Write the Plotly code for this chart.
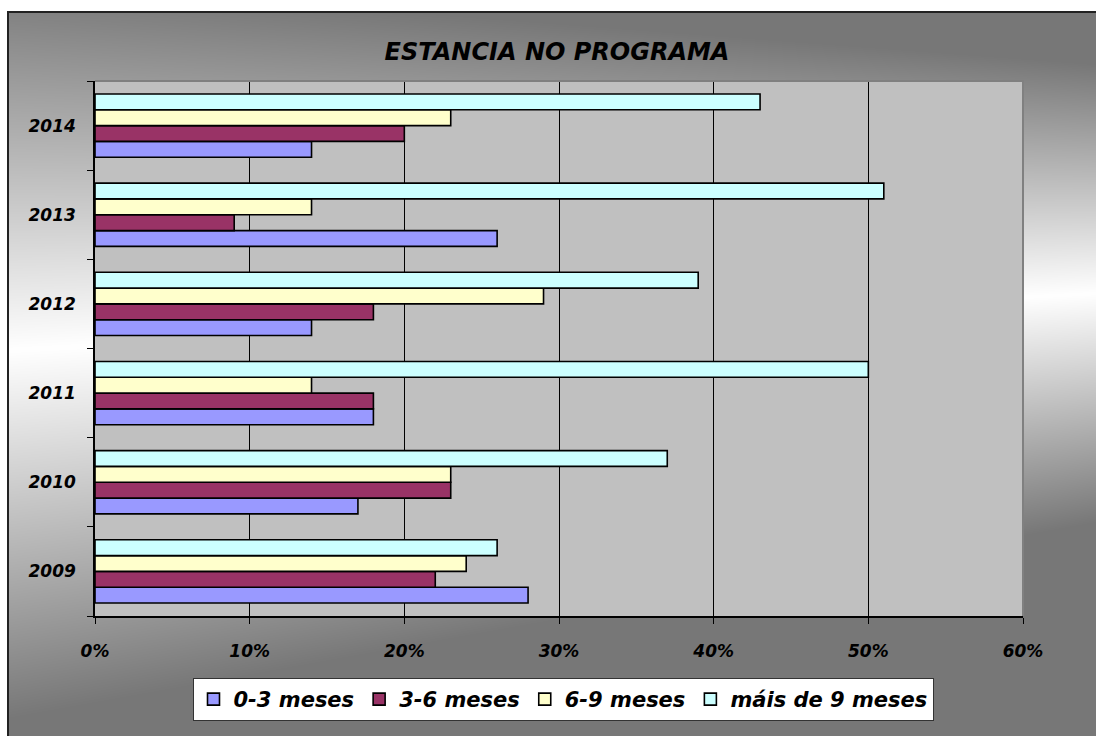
import base64
import struct
import zlib

import numpy as np
import plotly.graph_objects as go

# ---------------- data ----------------
years = ["2009", "2010", "2011", "2012", "2013", "2014"]
m0_3 = [28, 17, 18, 14, 26, 14]
m3_6 = [22, 23, 18, 18, 9, 20]
m6_9 = [24, 23, 14, 29, 14, 23]
m9_plus = [26, 37, 50, 39, 51, 43]
series_names = ["0-3 meses", "3-6 meses", "6-9 meses", "máis de 9 meses"]
series_colors = ["#9999FF", "#993366", "#FFFFCC", "#CCFFFF"]
x_ticks = [0, 10, 20, 30, 40, 50, 60]
x_ticktext = [f"{v}%" for v in x_ticks]

# ---------------- layout geometry (pixels) ----------------
W, H = 1096, 736
PL, PR, PT, PB = 95, 1023, 81, 616  # plot area edges
PW, PH = PR - PL, PB - PT


def px_x(px):
    return (px - PL) / PW


def px_y(py):
    return (PB - py) / PH


# ---------------- gradient background image ----------------
BX0, BY0 = 7, 11  # outer box top-left
bw, bh = W - BX0, H - BY0
xs = (np.arange(bw)[None, :] + BX0).astype(float)
ys = (np.arange(bh)[:, None] + BY0).astype(float)
f = (xs - BX0) / bw
yc = 350 - 57 * f
R = 370 - 140 * f
t = np.clip(np.abs(ys - yc) / R, 0, 1)
val = 255 - t * (255 - 119)
img = np.repeat(val[:, :, None], 3, axis=2).astype(np.uint8)


def to_png(a):
    h, w, _ = a.shape
    raw = b"".join(b"\x00" + a[i].tobytes() for i in range(h))

    def chunk(tag, data):
        c = struct.pack(">I", len(data)) + tag + data
        return c + struct.pack(">I", zlib.crc32(tag + data) & 0xFFFFFFFF)

    png = b"\x89PNG\r\n\x1a\n"
    png += chunk(b"IHDR", struct.pack(">IIBBBBB", w, h, 8, 2, 0, 0, 0))
    png += chunk(b"IDAT", zlib.compress(raw, 9))
    png += chunk(b"IEND", b"")
    return "data:image/png;base64," + base64.b64encode(png).decode()


bg_src = to_png(img)

# ---------------- figure ----------------
FONT = "DejaVu Sans"
fig = go.Figure()
for name, vals, col in zip(series_names, [m0_3, m3_6, m6_9, m9_plus], series_colors):
    fig.add_trace(
        go.Bar(
            y=years,
            x=vals,
            name=name,
            orientation="h",
            marker=dict(color=col, line=dict(color="#000000", width=1.6)),
        )
    )

fig.update_layout(
    width=W,
    height=H,
    margin=dict(l=PL, r=W - PR, t=PT, b=H - PB, autoexpand=False),
    paper_bgcolor="#FFFFFF",
    plot_bgcolor="#C0C0C0",
    barmode="group",
    bargap=0.29,
    bargroupgap=0,
    title=dict(
        text="ESTANCIA NO PROGRAMA",
        x=557 / W,
        xanchor="center",
        y=1 - 52 / H,
        yanchor="middle",
        font=dict(family=FONT, size=24, color="#000000", weight="bold", style="italic"),
    ),
    xaxis=dict(
        range=[0, 60],
        tickvals=x_ticks,
        ticktext=x_ticktext,
        showgrid=True,
        gridcolor="#000000",
        gridwidth=1,
        zeroline=False,
        showline=True,
        linecolor="#000000",
        linewidth=1.5,
        ticks="outside",
        ticklen=6,
        tickcolor="#000000",
        ticklabelstandoff=13,
        tickfont=dict(family=FONT, size=17, color="#000000", weight="bold", style="italic"),
        fixedrange=True,
    ),
    yaxis=dict(
        type="category",
        categoryorder="array",
        categoryarray=years,
        showgrid=False,
        zeroline=False,
        showline=True,
        linecolor="#000000",
        linewidth=1.5,
        ticks="outside",
        tickson="boundaries",
        ticklen=6,
        tickcolor="#000000",
        ticklabelstandoff=14,
        tickfont=dict(family=FONT, size=17, color="#000000", weight="bold", style="italic"),
        fixedrange=True,
    ),
    legend=dict(
        orientation="h",
        x=px_x(563),
        xanchor="center",
        y=px_y(678),
        yanchor="top",
        bgcolor="#FFFFFF",
        bordercolor="#333333",
        borderwidth=1,
        font=dict(family=FONT, size=21, color="#000000", weight="bold", style="italic"),
        traceorder="normal",
    ),
    images=[
        dict(
            source=bg_src,
            xref="paper",
            yref="paper",
            x=px_x(BX0),
            y=px_y(BY0),
            sizex=bw / PW,
            sizey=bh / PH,
            xanchor="left",
            yanchor="top",
            sizing="stretch",
            layer="below",
        )
    ],
    shapes=[
        dict(
            type="rect",
            xref="paper",
            yref="paper",
            x0=0,
            x1=1,
            y0=0,
            y1=1,
            fillcolor="#C0C0C0",
            line=dict(width=0),
            layer="below",
        ),
        dict(
            type="rect",
            xref="paper",
            yref="paper",
            x0=px_x(BX0 + 1),
            x1=px_x(W + 10),
            y0=px_y(H + 10),
            y1=px_y(BY0 + 1),
            line=dict(color="#222222", width=2),
            layer="above",
        ),
        dict(
            type="path",
            xref="paper",
            yref="paper",
            path="M 0,1 L 1,1 L 1,0",
            line=dict(color="#808080", width=2),
            layer="above",
        ),
    ],
    showlegend=True,
)

fig.write_html(
    "out.html",
    config={"displayModeBar": False},
    post_script="document.body.style.margin='0';document.body.style.overflow='hidden';"
    "document.documentElement.style.overflow='hidden';",
)
